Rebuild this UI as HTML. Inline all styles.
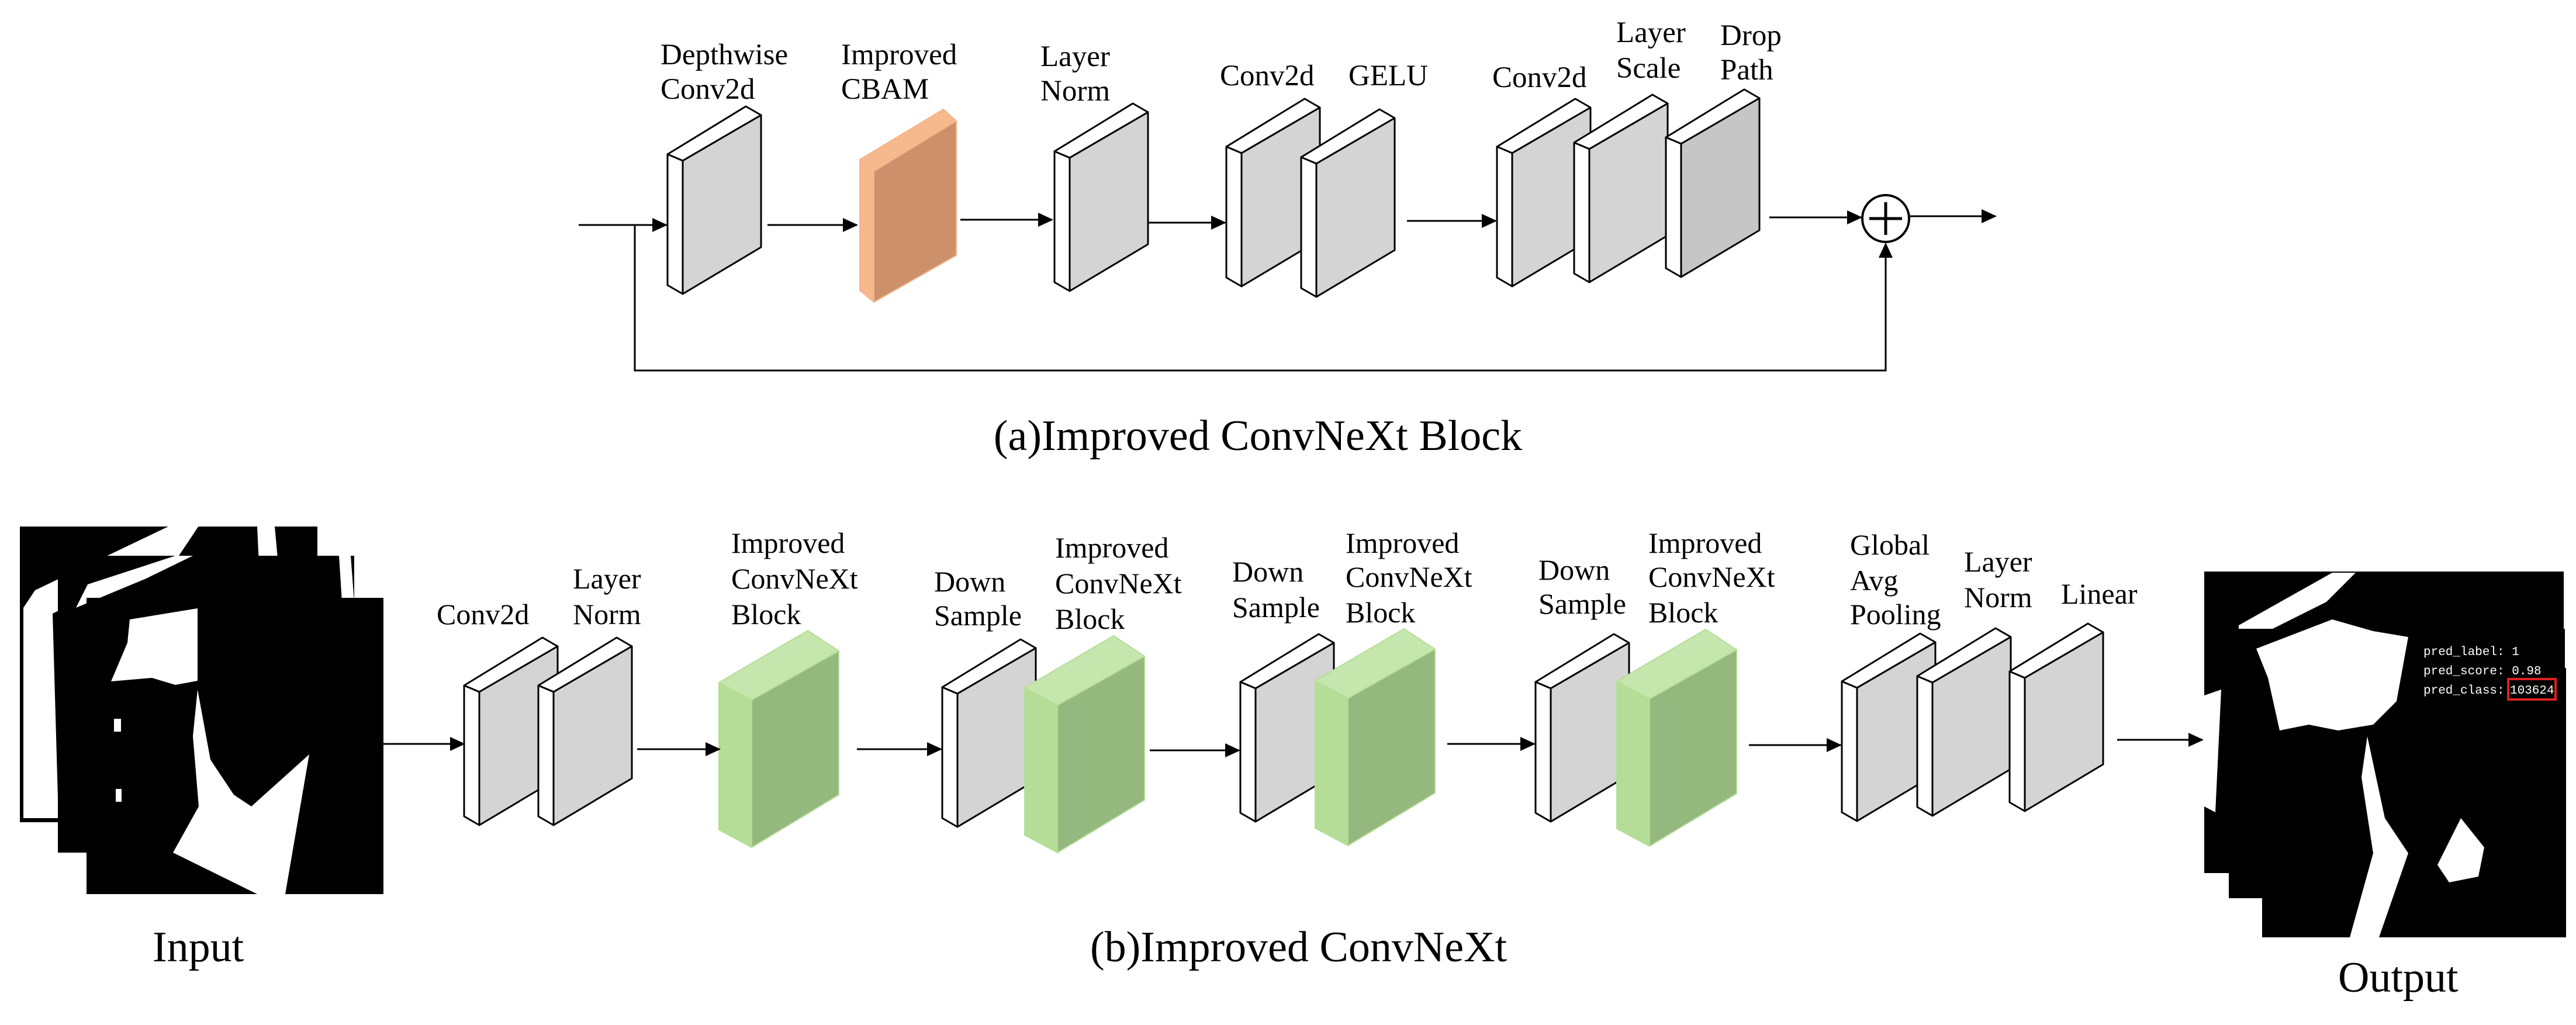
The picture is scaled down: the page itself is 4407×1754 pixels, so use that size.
<!DOCTYPE html>
<html><head><meta charset="utf-8"><style>
html,body{margin:0;padding:0;background:#fff;}
svg{display:block;}
</style></head><body>
<svg width="4407" height="1754" viewBox="0 0 4407 1754" xmlns="http://www.w3.org/2000/svg" font-family="'Liberation Serif', serif">
<defs>
<g id="p" stroke="#000" stroke-width="3" stroke-linejoin="round">
<path d="M0,79 L134,-3 L160,12 L26,90 Z" fill="#fff"/>
<path d="M26,90 L160,12 L160,238 L26,318 Z" fill="#d4d4d4"/>
<path d="M0,79 L26,90 L26,318 L0,303 Z" fill="#fff"/>
</g>
<g id="pd" stroke="#000" stroke-width="3" stroke-linejoin="round">
<path d="M0,79 L134,-3 L160,12 L26,90 Z" fill="#fff"/>
<path d="M26,90 L160,12 L160,238 L26,318 Z" fill="#c6c6c6"/>
<path d="M0,79 L26,90 L26,318 L0,303 Z" fill="#fff"/>
</g>
<g id="o" stroke="#f4b48a" stroke-width="2" stroke-linejoin="round">
<path d="M0,86 L143,0 L165,20 L24,106 Z" fill="#f6b98d"/>
<path d="M24,106 L165,20 L165,250 L24,330 Z" fill="#cc916a"/>
<path d="M0,86 L24,106 L24,330 L0,310 Z" fill="#f6b98d"/>
</g>
<g id="g" stroke="#b5dd98" stroke-width="2" stroke-linejoin="round">
<path d="M0,89 L152,0 L205,35 L56,119 Z" fill="#c5e6ad"/>
<path d="M56,119 L205,35 L205,281 L56,371 Z" fill="#94b87e"/>
<path d="M0,89 L56,119 L56,371 L0,341 Z" fill="#b5dd98"/>
</g>
<marker id="a" markerWidth="26" markerHeight="24" refX="24" refY="12" orient="auto" markerUnits="userSpaceOnUse" viewBox="0 0 26 24">
<path d="M0,0 L26,12 L0,24 Z" fill="#000"/>
</marker>
</defs>

<!-- ===== (a) ===== -->
<g font-size="51" font-family="'Liberation Serif', serif" fill="#000">
<text x="1130" y="110">Depthwise</text><text x="1130" y="169">Conv2d</text>
<text x="1439" y="110">Improved</text><text x="1439" y="169">CBAM</text>
<text x="1780" y="113">Layer</text><text x="1780" y="172">Norm</text>
<text x="2087" y="146">Conv2d</text><text x="2307" y="146">GELU</text>
<text x="2553" y="149">Conv2d</text>
<text x="2765" y="72">Layer</text><text x="2765" y="133">Scale</text>
<text x="2943" y="77">Drop</text><text x="2943" y="136">Path</text>
</g>
<use href="#p" x="1142" y="185"/>
<use href="#o" x="1471" y="187"/>
<use href="#p" x="1804" y="180"/>
<use href="#p" x="2098" y="172"/>
<use href="#p" x="2226" y="190"/>
<use href="#p" x="2561" y="172"/>
<use href="#p" x="2693" y="165"/>
<use href="#pd" x="2850" y="156"/>
<g stroke="#000" stroke-width="3" fill="none">
<line x1="990" y1="385" x2="1140" y2="385" marker-end="url(#a)"/>
<line x1="1313" y1="385" x2="1466" y2="385" marker-end="url(#a)"/>
<line x1="1643" y1="376" x2="1800" y2="376" marker-end="url(#a)"/>
<line x1="1965" y1="381" x2="2096" y2="381" marker-end="url(#a)"/>
<line x1="2407" y1="378" x2="2559" y2="378" marker-end="url(#a)"/>
<line x1="3027" y1="372" x2="3184" y2="372" marker-end="url(#a)"/>
<line x1="3268" y1="370" x2="3414" y2="370" marker-end="url(#a)"/>
<polyline points="1086,385 1086,634 3226,634 3226,417" marker-end="url(#a)"/>
<circle cx="3226" cy="374" r="40" stroke-width="4"/>
<line x1="3198" y1="374" x2="3254" y2="374" stroke-width="5"/>
<line x1="3226" y1="346" x2="3226" y2="402" stroke-width="5"/>
</g>
<text font-size="74" font-family="'Liberation Serif', serif" x="2152" y="770" text-anchor="middle">(a)Improved ConvNeXt Block</text>

<!-- ===== (b) ===== -->
<rect x="34" y="901" width="509" height="506" fill="#000"/>
<polygon points="60,1010 290,900 340,900 300,960 150,1020 90,1050 100,1400 40,1400 40,1040" fill="#fff"/>
<polygon points="440,901 470,901 480,1010 445,1010" fill="#fff"/>
<rect x="99" y="951" width="507" height="508" fill="#000"/>
<polygon points="150,1000 300,951 330,951 250,990 130,1040" fill="#fff"/>
<polygon points="580,951 600,951 606,1030 585,1030" fill="#fff"/>
<rect x="148" y="1023" width="508" height="507" fill="#000"/>
<polygon points="222,1060 338,1041 338,1165 300,1172 260,1160 190,1166 218,1100" fill="#fff"/>
<polygon points="338,1180 360,1300 400,1360 430,1380 529,1291 488,1530 440,1530 296,1459 340,1380 330,1260" fill="#fff"/>
<rect x="195" y="1230" width="12" height="22" fill="#fff"/><rect x="198" y="1350" width="10" height="22" fill="#fff"/>

<g font-size="50" font-family="'Liberation Serif', serif" fill="#000">
<text x="747" y="1068">Conv2d</text>
<text x="980" y="1007">Layer</text><text x="980" y="1068">Norm</text>
<text x="1251" y="946">Improved</text><text x="1251" y="1007">ConvNeXt</text><text x="1251" y="1068">Block</text>
<text x="1598" y="1012">Down</text><text x="1598" y="1070">Sample</text>
<text x="1805" y="954">Improved</text><text x="1805" y="1015">ConvNeXt</text><text x="1805" y="1076">Block</text>
<text x="2108" y="995">Down</text><text x="2108" y="1056">Sample</text>
<text x="2302" y="946">Improved</text><text x="2302" y="1004">ConvNeXt</text><text x="2302" y="1065">Block</text>
<text x="2632" y="992">Down</text><text x="2632" y="1050">Sample</text>
<text x="2820" y="946">Improved</text><text x="2820" y="1004">ConvNeXt</text><text x="2820" y="1065">Block</text>
<text x="3165" y="949">Global</text><text x="3165" y="1010">Avg</text><text x="3165" y="1068">Pooling</text>
<text x="3360" y="978">Layer</text><text x="3360" y="1039">Norm</text>
<text x="3526" y="1033">Linear</text>
</g>
<use href="#p" x="794" y="1094"/>
<use href="#p" x="921" y="1094"/>
<use href="#g" x="1230" y="1079"/>
<use href="#p" x="1612" y="1097"/>
<use href="#g" x="1753" y="1088"/>
<use href="#p" x="2122" y="1088"/>
<use href="#g" x="2250" y="1076"/>
<use href="#p" x="2627" y="1088"/>
<use href="#g" x="2766" y="1077"/>
<use href="#p" x="3151" y="1087"/>
<use href="#p" x="3280" y="1078"/>
<use href="#p" x="3438" y="1070"/>
<g stroke="#000" stroke-width="3">
<line x1="656" y1="1273" x2="794" y2="1273" marker-end="url(#a)"/>
<line x1="1090" y1="1282" x2="1231" y2="1282" marker-end="url(#a)"/>
<line x1="1466" y1="1282" x2="1610" y2="1282" marker-end="url(#a)"/>
<line x1="1967" y1="1284" x2="2120" y2="1284" marker-end="url(#a)"/>
<line x1="2476" y1="1273" x2="2625" y2="1273" marker-end="url(#a)"/>
<line x1="2992" y1="1275" x2="3149" y2="1275" marker-end="url(#a)"/>
<line x1="3622" y1="1266" x2="3768" y2="1266" marker-end="url(#a)"/>
</g>

<rect x="3771" y="978" width="615" height="516" fill="#000"/>
<polygon points="3830,1070 3990,980 4030,980 3980,1030 3880,1080 3830,1100" fill="#fff"/>
<rect x="3813" y="1076" width="575" height="461" fill="#000"/>
<rect x="3870" y="1143" width="520" height="461" fill="#000"/>
<polygon points="3860,1110 3990,1060 4060,1080 4120,1090 4100,1200 4060,1240 4000,1250 3950,1240 3900,1250 3880,1160" fill="#fff"/>
<polygon points="3771,1190 3800,1180 3790,1390 3771,1380" fill="#fff"/>
<polygon points="4050,1260 4080,1400 4120,1460 4070,1604 4020,1604 4060,1460 4040,1330" fill="#fff"/>
<polygon points="4210,1400 4250,1450 4240,1500 4190,1510 4170,1480" fill="#fff"/>
<g font-family="'Liberation Mono', monospace" font-size="21" fill="#fff">
<text x="4146" y="1121">pred_label:  1</text>
<text x="4146" y="1154">pred_score:  0.98</text>
<text x="4146" y="1187">pred_class:</text>
<text x="4294" y="1187">103624</text>
</g>
<rect x="4291" y="1162" width="81" height="35" fill="none" stroke="#e02020" stroke-width="4"/>

<g font-size="74" font-family="'Liberation Serif', serif" fill="#000">
<text x="261" y="1645">Input</text>
<text x="1865" y="1645">(b)Improved ConvNeXt</text>
<text x="4000" y="1697">Output</text>
</g>
</svg>
</body></html>
